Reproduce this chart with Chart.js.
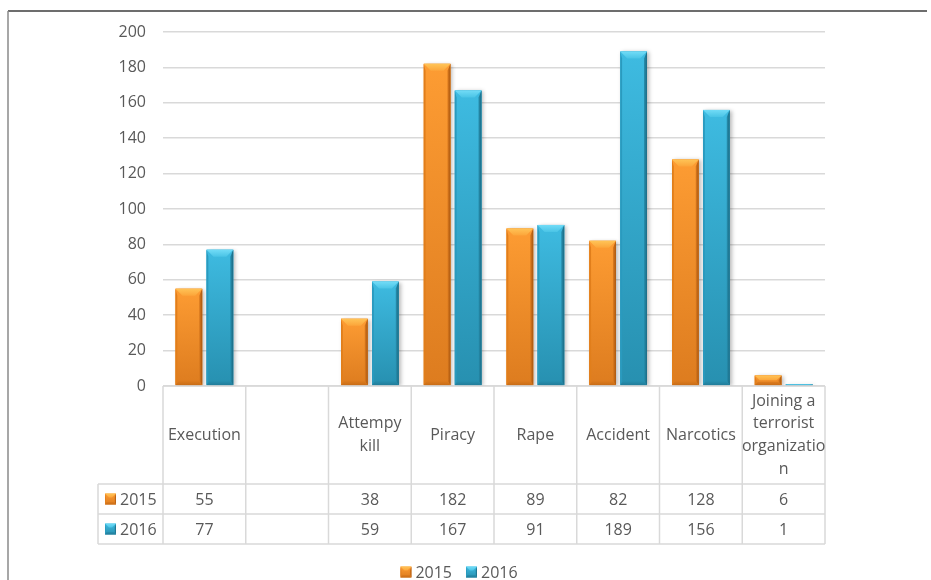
<!DOCTYPE html>
<html>
<head>
<meta charset="utf-8">
<script src="https://cdn.jsdelivr.net/npm/chart.js@4.4.1/dist/chart.umd.min.js"></script>
<style>
  html, body { margin: 0; padding: 0; background: #ffffff; }
  #wrap { width: 931px; height: 580px; position: relative; }
</style>
</head>
<body>
<div id="wrap"><canvas id="chart" width="931" height="580"></canvas></div>
<script>
// Categories and yearly counts
const categories = ['Execution', '', 'Attempy kill', 'Piracy', 'Rape', 'Accident', 'Narcotics', 'Joining a terrorist organization'];
const seriesNames = ['2015', '2016'];
const values2015 = [55, null, 38, 182, 89, 82, 128, 6];
const values2016 = [77, null, 59, 167, 91, 189, 156, 1];
const yMin = 0, yMax = 200, yStep = 20;

const FONT = "'Open Sans', 'Noto Sans', sans-serif";
const TEXT = '#595959';
const GRID = '#d9d9d9';

// bevel palettes per series
const palettes = [
  { body: '#F28E27', bodyTop: '#FD9C33', bodyLow: '#DD7C1F', top: '#FFC457', topLow: '#FCA53A',
    left: '#E17E1B', right: '#A9560F', bottom: '#C86C16' },
  { body: '#33ACD2', bodyTop: '#3EBBE1', bodyLow: '#2790B0', top: '#72DCF7', topLow: '#4AC4E6',
    left: '#2A9AbE', right: '#1B6A83', bottom: '#217C99' }
];

function poly(ctx, pts, fill) {
  ctx.beginPath();
  ctx.moveTo(pts[0][0], pts[0][1]);
  for (let i = 1; i < pts.length; i++) ctx.lineTo(pts[i][0], pts[i][1]);
  ctx.closePath();
  ctx.fillStyle = fill;
  ctx.fill();
}

// draws the shaded body and bevel faces on a rectangle
function bevelRect(ctx, L, T, R, B, pal, depth, side) {
  const w = R - L, h = B - T;
  if (w <= 0 || h <= 0) return;
  const body = ctx.createLinearGradient(0, T, 0, B);
  body.addColorStop(0, pal.bodyTop);
  body.addColorStop(1, pal.bodyLow);
  ctx.fillStyle = body;
  ctx.fillRect(L, T, w, h);
  const d = Math.min(depth, w / 2, h / 2);
  const s = Math.min(side, w / 4);
  const bd = Math.min(depth * 0.6, h / 3);
  // left and right faces
  poly(ctx, [[L, T], [L + s * 0.6, T + d], [L + s * 0.6, B - bd], [L, B]], pal.left);
  const rg = ctx.createLinearGradient(R - s, 0, R, 0);
  rg.addColorStop(0, pal.bodyLow);
  rg.addColorStop(1, pal.right);
  poly(ctx, [[R, T], [R, B], [R - s, B - bd], [R - s, T + d]], rg);
  // bottom face
  const bg = ctx.createLinearGradient(0, B - bd, 0, B);
  bg.addColorStop(0, pal.bodyLow);
  bg.addColorStop(1, pal.bottom);
  poly(ctx, [[L, B], [L + s, B - bd], [R - s, B - bd], [R, B]], bg);
  // top face
  const g = ctx.createLinearGradient(0, T, 0, T + d);
  g.addColorStop(0, pal.top);
  g.addColorStop(1, pal.topLow);
  poly(ctx, [[L, T], [R, T], [R - d, T + d], [L + d, T + d]], g);
}

function wrapLabel(ctx, text, maxW) {
  if (!text) return [];
  const words = text.split(' ');
  const lines = [];
  let cur = '';
  const pushWord = (w) => {
    // break a single word that is too long
    while (ctx.measureText(w).width > maxW) {
      let k = w.length - 1;
      while (k > 1 && ctx.measureText(w.slice(0, k)).width > maxW) k--;
      lines.push(w.slice(0, k));
      w = w.slice(k);
    }
    return w;
  };
  for (const word of words) {
    const trial = cur ? cur + ' ' + word : word;
    if (ctx.measureText(trial).width <= maxW) {
      cur = trial;
    } else {
      if (cur) lines.push(cur);
      cur = pushWord(word);
    }
  }
  if (cur) lines.push(cur);
  return lines;
}

const decorPlugin = {
  id: 'decor',
  beforeDatasetsDraw(chart) {
    const ctx = chart.ctx;
    ctx.save();
    ctx.shadowColor = 'rgba(0,0,0,0.28)';
    ctx.shadowBlur = 4;
    ctx.shadowOffsetX = 2;
    ctx.shadowOffsetY = 1;
  },
  afterDatasetsDraw(chart) {
    const ctx = chart.ctx;
    ctx.restore();
    chart.data.datasets.forEach((ds, di) => {
      const meta = chart.getDatasetMeta(di);
      meta.data.forEach((el, i) => {
        if (ds.data[i] == null) return;
        const p = el.getProps(['x', 'y', 'base', 'width'], true);
        const L = p.x - p.width / 2, R = p.x + p.width / 2;
        const T = Math.min(p.y, p.base), B = Math.max(p.y, p.base);
        ctx.save();
        bevelRect(ctx, L, T, R, B, palettes[di], 7, 3);
        ctx.restore();
      });
    });
  },
  afterDraw(chart) {
    const ctx = chart.ctx;
    const area = chart.chartArea;
    const xs = chart.scales.x;
    const n = categories.length;
    const cellW = (area.right - area.left) / n;
    const top = area.bottom;
    const headB = top + 98;
    const row1B = headB + 30;
    const row2B = row1B + 30;
    const keyL = 98;

    ctx.save();
    // frame lines
    ctx.lineWidth = 1.5;
    ctx.strokeStyle = '#3c3c3c';
    ctx.beginPath(); ctx.moveTo(8, 11); ctx.lineTo(927, 11); ctx.stroke();
    ctx.strokeStyle = '#8a8a8a';
    ctx.beginPath(); ctx.moveTo(8, 11); ctx.lineTo(8, 580); ctx.stroke();

    // table grid
    ctx.strokeStyle = GRID;
    ctx.lineWidth = 1.5;
    ctx.beginPath();
    ctx.moveTo(area.left, top); ctx.lineTo(area.right, top);
    ctx.moveTo(keyL, headB); ctx.lineTo(area.right, headB);
    ctx.moveTo(keyL, row1B); ctx.lineTo(area.right, row1B);
    ctx.moveTo(keyL, row2B); ctx.lineTo(area.right, row2B);
    ctx.moveTo(keyL, headB); ctx.lineTo(keyL, row2B);
    for (let i = 0; i <= n; i++) {
      const x = area.left + i * cellW;
      ctx.moveTo(x, top); ctx.lineTo(x, row2B);
    }
    ctx.stroke();

    // category labels
    ctx.font = '16px ' + FONT;
    ctx.fillStyle = TEXT;
    ctx.textAlign = 'center';
    ctx.textBaseline = 'middle';
    const lineH = 22.7;
    const midHead = (top + headB) / 2;
    categories.forEach((c, i) => {
      const cx = xs.getPixelForValue(i);
      const lines = wrapLabel(ctx, c, 86);
      const y0 = midHead - (lines.length - 1) * lineH / 2;
      lines.forEach((ln, k) => ctx.fillText(ln, cx, y0 + k * lineH));
    });

    // value rows
    const rows = [values2015, values2016];
    const rowMid = [(headB + row1B) / 2, (row1B + row2B) / 2];
    rows.forEach((vals, r) => {
      vals.forEach((v, i) => {
        if (v == null) return;
        ctx.fillText(String(v), xs.getPixelForValue(i), rowMid[r] + 1);
      });
      // row key
      bevelRect(ctx, 105, rowMid[r] - 5.5, 116, rowMid[r] + 5.5, palettes[r], 4, 1.5);
      ctx.fillStyle = TEXT;
      ctx.textAlign = 'left';
      ctx.fillText(seriesNames[r], 120, rowMid[r] + 1);
      ctx.textAlign = 'center';
    });

    // legend
    const key = 11, gap = 4, sep = 14;
    const widths = seriesNames.map(s => ctx.measureText(s).width);
    const total = widths.reduce((a, w) => a + key + gap + w, 0) + sep * (seriesNames.length - 1);
    let lx = 459 - total / 2;
    const ly = 572;
    ctx.textAlign = 'left';
    seriesNames.forEach((s, r) => {
      bevelRect(ctx, lx, ly - 5.5, lx + key, ly + 5.5, palettes[r], 4, 1.5);
      ctx.fillStyle = TEXT;
      ctx.fillText(s, lx + key + gap, ly + 1);
      lx += key + gap + widths[r] + sep;
    });
    ctx.restore();
  }
};

Chart.defaults.font.family = FONT;
Chart.defaults.color = TEXT;

new Chart(document.getElementById('chart'), {
  type: 'bar',
  data: {
    labels: categories,
    datasets: [
      { label: seriesNames[0], data: values2015, backgroundColor: palettes[0].body, borderWidth: 0,
        barPercentage: 0.86, categoryPercentage: 0.75 },
      { label: seriesNames[1], data: values2016, backgroundColor: palettes[1].body, borderWidth: 0,
        barPercentage: 0.86, categoryPercentage: 0.75 }
    ]
  },
  options: {
    responsive: false,
    animation: false,
    devicePixelRatio: 1,
    layout: { padding: { left: 0, right: 106, top: 32, bottom: 194 } },
    plugins: { legend: { display: false }, tooltip: { enabled: false } },
    scales: {
      x: { display: false, offset: true, grid: { display: false } },
      y: {
        min: yMin, max: yMax,
        border: { display: false },
        grid: { color: GRID, lineWidth: 1.5, drawTicks: false },
        ticks: { stepSize: yStep, padding: 17, font: { size: 16 }, color: TEXT },
        afterFit(scale) { scale.width = 163; }
      }
    }
  },
  plugins: [decorPlugin]
});
</script>
</body>
</html>
